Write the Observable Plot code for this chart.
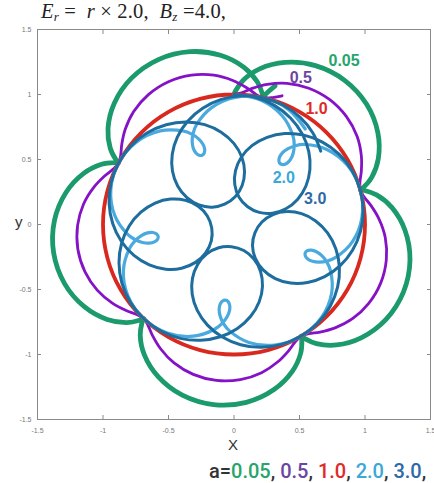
<!DOCTYPE html>
<html>
<head>
<meta charset="utf-8">
<script src="https://cdn.jsdelivr.net/npm/d3@7"></script>
<script src="https://cdn.jsdelivr.net/npm/@observablehq/plot@0.6"></script>
<style>
  body { margin: 0; background: #fff; }
  #wrap { position: relative; width: 434px; height: 483px; overflow: hidden; background: #fff; }
  #chart { position: absolute; left: 0; top: 0; }
  #title { position: absolute; left: 41px; top: 1px; font-family: "Liberation Serif", "DejaVu Serif", serif; font-size: 20.5px; line-height: 21px; color: #222; white-space: pre; letter-spacing: 0.2px; }
  #title sub { font-size: 13px; vertical-align: -3px; line-height: 0; }
  #xlabel { position: absolute; left: 228px; top: 436px; font-family: "Liberation Sans", Arial, sans-serif; font-size: 15px; color: #333; }
  #ylabel { position: absolute; left: 15px; top: 213px; font-family: "Liberation Sans", Arial, sans-serif; font-size: 15px; color: #333; }
  #legend { position: absolute; left: 209px; top: 461px; font-family: Roboto, "Liberation Sans", sans-serif; font-size: 20px; line-height: 20px; font-weight: 500; color: #333; white-space: pre; letter-spacing: 0px; }
</style>
</head>
<body>
<div id="wrap">
  <div id="chart"></div>
  <div id="title"><i>E</i><sub><i>r</i></sub> =  <i>r</i> × 2.0,  <i>B</i><sub><i>z</i></sub> =4.0,</div>
  <div id="xlabel">X</div>
  <div id="ylabel">y</div>
  <div id="legend"></div>
</div>
<script>
// ---- axis ticks ----
const xTicks = [-1.5, -1, -0.5, 0, 0.5, 1, 1.5];
const yTicks = [-1.5, -1, -0.5, 0, 0.5, 1, 1.5];
const tickLabels = ["-1.5", "-1", "-0.5", "0", "0.5", "1", "1.5"];

// ---- series names / colours ----
const seriesNames = ["0.05", "0.5", "1.0", "2.0", "3.0"];
const lineColors = ["#1b9a6c", "#8512c6", "#d9281e", "#4aaadd", "#1d6d9e"];
const textColors = ["#27a56c", "#6b45a3", "#de2b27", "#3aa8d8", "#2e6aa6"];

// ---- trajectories (polar: angle in degrees, radius) ----
// a = 1.0 (red circle)
const redTheta = [90,75,60,45,30,15,0,-15,-30,-45,-60,-75,-90,-105,-120,-135,-150,-165,-180,-195,-210,-225,-240,-255,-270,-285,-295];
const redR = [1,1,1,1,1,1,1,1,1,1,1,1,1,1,1,1,1,1,1,1,1,1,1,1,1,1,1];

// a = 0.05 (green)
const greenTheta = [
  90, 89.26, 86.39, 80.70, 72.64, 63.05, 52.72, 42.39, 32.80, 24.74, 19.05, 16.18,
  15.44, 14.70, 11.83, 6.14, -1.92, -11.51, -21.84, -32.17, -41.76, -49.82, -55.51, -58.38,
  -59.12, -59.86, -62.73, -68.42, -76.48, -86.07, -96.40, -106.73, -116.32, -124.38, -130.07, -132.94,
  -133.68, -134.42, -137.29, -142.98, -151.04, -160.63, -170.96, -181.29, -190.88, -198.94, -204.63, -207.50,
  -208.24, -208.98, -211.85, -217.54, -225.60, -235.19, -245.52, -255.85, -265.44, -273.50, -279.19, -282.06,
  -282.80, -283.54, -286.41];
const greenR = [
  1, 1.031, 1.112, 1.213, 1.306, 1.371, 1.394, 1.371, 1.306, 1.213, 1.112, 1.031,
  1, 1.031, 1.112, 1.213, 1.306, 1.371, 1.394, 1.371, 1.306, 1.213, 1.112, 1.031,
  1, 1.031, 1.112, 1.213, 1.306, 1.371, 1.394, 1.371, 1.306, 1.213, 1.112, 1.031,
  1, 1.031, 1.112, 1.213, 1.306, 1.371, 1.394, 1.371, 1.306, 1.213, 1.112, 1.031,
  1, 1.031, 1.112, 1.213, 1.306, 1.371, 1.394, 1.371, 1.306, 1.213, 1.112, 1.031,
  1, 1.031, 1.112];

// a = 0.5 (purple)
const purpleTheta = [
  90, 86.71, 82.45, 76.72, 69.59, 61.42, 52.72, 44.02, 35.85, 28.72, 22.99, 18.73,
  15.44, 12.15, 7.89, 2.16, -4.97, -13.14, -21.84, -30.54, -38.71, -45.84, -51.57, -55.83,
  -59.12, -62.41, -66.67, -72.40, -79.53, -87.70, -96.40, -105.10, -113.27, -120.40, -126.13, -130.39,
  -133.68, -136.97, -141.23, -146.96, -154.09, -162.26, -170.96, -179.66, -187.83, -194.96, -200.69, -204.95,
  -208.24, -211.53, -215.79, -221.52, -228.65, -236.82, -245.52, -254.22, -262.39, -269.52, -275.25, -279.51,
  -282.80, -286.09, -290.35];
const purpleR = [
  1, 1.015, 1.056, 1.108, 1.159, 1.194, 1.207, 1.194, 1.159, 1.108, 1.056, 1.015,
  1, 1.015, 1.056, 1.108, 1.159, 1.194, 1.207, 1.194, 1.159, 1.108, 1.056, 1.015,
  1, 1.015, 1.056, 1.108, 1.159, 1.194, 1.207, 1.194, 1.159, 1.108, 1.056, 1.015,
  1, 1.015, 1.056, 1.108, 1.159, 1.194, 1.207, 1.194, 1.159, 1.108, 1.056, 1.015,
  1, 1.015, 1.056, 1.108, 1.159, 1.194, 1.207, 1.194, 1.159, 1.108, 1.056, 1.015,
  1, 1.015, 1.056];

// a = 2.0 (light blue)
const lightTheta = [
  90, 77.71, 66.26, 56.72, 53.11, 50.56, 49.27, 49.35, 50.66, 52.72, 54.78, 56.09, 56.16, 54.88, 52.33, 48.72, 39.18, 27.73,
  15.44, 3.15, -8.30, -17.84, -21.45, -24.00, -25.29, -25.21, -23.90, -21.84, -19.78, -18.47, -18.40, -19.68, -22.23, -25.84, -35.38, -46.83,
  -59.12, -71.41, -82.86, -92.40, -96.01, -98.56, -99.85, -99.77, -98.46, -96.40, -94.34, -93.03, -92.96, -94.24, -96.79, -100.40, -109.94, -121.39,
  -133.68, -145.97, -157.42, -166.96, -170.57, -173.12, -174.41, -174.33, -173.02, -170.96, -168.90, -167.59, -167.52, -168.80, -171.35, -174.96, -184.50, -195.95,
  -208.24, -220.53, -231.98, -241.52, -245.13, -247.68, -248.97, -248.89, -247.58, -245.52, -243.46, -242.15, -242.08, -243.36, -245.91, -249.52, -259.06, -270.51,
  -282.80, -295.09, -306.54];
const lightR = [
  1, 0.978, 0.914, 0.819, 0.766, 0.712, 0.663, 0.622, 0.595, 0.586, 0.595, 0.622, 0.663, 0.712, 0.766, 0.819, 0.914, 0.978,
  1, 0.978, 0.914, 0.819, 0.766, 0.712, 0.663, 0.622, 0.595, 0.586, 0.595, 0.622, 0.663, 0.712, 0.766, 0.819, 0.914, 0.978,
  1, 0.978, 0.914, 0.819, 0.766, 0.712, 0.663, 0.622, 0.595, 0.586, 0.595, 0.622, 0.663, 0.712, 0.766, 0.819, 0.914, 0.978,
  1, 0.978, 0.914, 0.819, 0.766, 0.712, 0.663, 0.622, 0.595, 0.586, 0.595, 0.622, 0.663, 0.712, 0.766, 0.819, 0.914, 0.978,
  1, 0.978, 0.914, 0.819, 0.766, 0.712, 0.663, 0.622, 0.595, 0.586, 0.595, 0.622, 0.663, 0.712, 0.766, 0.819, 0.914, 0.978,
  1, 0.978, 0.914];

// a = 3.0 (dark blue)
const darkTheta = [
  90, 80.69, 71.42, 62.24, 53.23, 44.47, 36.10, 28.36, 21.70, 17.04, 16.57, 25.83, 52.72, 79.61, 88.87, 88.40, 83.74, 77.08, 69.34, 60.97, 52.21, 43.19, 34.02, 24.75,
  15.44, 6.13, -3.14, -12.32, -21.33, -30.09, -38.46, -46.20, -52.86, -57.52, -57.99, -48.73, -21.84, 5.05, 14.31, 13.84, 9.18, 2.52, -5.22, -13.59, -22.35, -31.37, -40.54, -49.81,
  -59.12, -68.43, -77.70, -86.88, -95.89, -104.65, -113.02, -120.76, -127.42, -132.08, -132.55, -123.29, -96.40, -69.51, -60.25, -60.72, -65.38, -72.04, -79.78, -88.15, -96.91, -105.93, -115.10, -124.37,
  -133.68, -142.99, -152.26, -161.44, -170.45, -179.21, -187.58, -195.32, -201.98, -206.64, -207.11, -197.85, -170.96, -144.07, -134.81, -135.28, -139.94, -146.60, -154.34, -162.71, -171.47, -180.49, -189.66, -198.93,
  -208.24, -217.55, -226.82, -236.00, -245.01, -253.77, -262.14, -269.88, -276.54, -281.20, -281.67, -272.41, -245.52, -218.63, -209.37, -209.84, -214.50, -221.16, -228.90, -237.27, -246.03, -255.05, -264.22, -273.49,
  -282.80, -292.11, -301.38, -310.56, -319.57];
const darkR = [
  1, 0.992, 0.967, 0.926, 0.870, 0.800, 0.717, 0.624, 0.522, 0.414, 0.307, 0.214, 0.172, 0.214, 0.307, 0.414, 0.522, 0.624, 0.717, 0.800, 0.870, 0.926, 0.967, 0.992,
  1, 0.992, 0.967, 0.926, 0.870, 0.800, 0.717, 0.624, 0.522, 0.414, 0.307, 0.214, 0.172, 0.214, 0.307, 0.414, 0.522, 0.624, 0.717, 0.800, 0.870, 0.926, 0.967, 0.992,
  1, 0.992, 0.967, 0.926, 0.870, 0.800, 0.717, 0.624, 0.522, 0.414, 0.307, 0.214, 0.172, 0.214, 0.307, 0.414, 0.522, 0.624, 0.717, 0.800, 0.870, 0.926, 0.967, 0.992,
  1, 0.992, 0.967, 0.926, 0.870, 0.800, 0.717, 0.624, 0.522, 0.414, 0.307, 0.214, 0.172, 0.214, 0.307, 0.414, 0.522, 0.624, 0.717, 0.800, 0.870, 0.926, 0.967, 0.992,
  1, 0.992, 0.967, 0.926, 0.870, 0.800, 0.717, 0.624, 0.522, 0.414, 0.307, 0.214, 0.172, 0.214, 0.307, 0.414, 0.522, 0.624, 0.717, 0.800, 0.870, 0.926, 0.967, 0.992,
  1, 0.992, 0.967, 0.926, 0.870];

// ---- in-chart label anchors (data coordinates) ----
const labelX = [0.84, 0.51, 0.63, 0.38, 0.62];
const labelY = [1.26, 1.13, 0.89, 0.36, 0.20];

// ---- build tables (polar -> cartesian) ----
function table(thetaDeg, radius) {
  return thetaDeg.map((t, i) => ({
    x: radius[i] * Math.cos(t * Math.PI / 180),
    y: radius[i] * Math.sin(t * Math.PI / 180)
  }));
}
const green = table(greenTheta, greenR);
const purple = table(purpleTheta, purpleR);
const red = table(redTheta, redR);
const light = table(lightTheta, lightR);
const dark = table(darkTheta, darkR);
const labels = seriesNames.map((s, i) => ({text: s, x: labelX[i], y: labelY[i], color: textColors[i]}));

const chart = Plot.plot({
  width: 434,
  height: 452,
  marginLeft: 37,
  marginRight: 4,
  marginTop: 29,
  marginBottom: 33,
  style: {fontFamily: "'Liberation Sans', Arial, sans-serif", background: "#fff"},
  x: {domain: [-1.5, 1.5], label: null},
  y: {domain: [-1.5, 1.5], label: null},
  color: {type: "identity"},
  marks: [
    Plot.line(green, {x: "x", y: "y", stroke: lineColors[0], strokeWidth: 4.8, curve: "catmull-rom"}),
    Plot.line(purple, {x: "x", y: "y", stroke: lineColors[1], strokeWidth: 2.8, curve: "catmull-rom"}),
    Plot.line(red, {x: "x", y: "y", stroke: lineColors[2], strokeWidth: 3.8, curve: "catmull-rom"}),
    Plot.line(light, {x: "x", y: "y", stroke: lineColors[3], strokeWidth: 3.2, curve: "catmull-rom"}),
    Plot.line(dark, {x: "x", y: "y", stroke: lineColors[4], strokeWidth: 3.0, curve: "catmull-rom"}),
    Plot.text(labels, {x: "x", y: "y", text: "text", fill: "color", fontSize: 16, fontWeight: "bold"}),
    Plot.frame({stroke: "#8a8a8a", strokeWidth: 1}),
    Plot.axisX({ticks: xTicks, anchor: "bottom", tickSize: -4, tickFormat: () => "", stroke: "#8a8a8a", label: null}),
    Plot.axisX({ticks: xTicks, anchor: "top", tickSize: -4, tickFormat: () => "", stroke: "#8a8a8a", label: null}),
    Plot.axisY({ticks: yTicks, anchor: "left", tickSize: -4, tickFormat: () => "", stroke: "#8a8a8a", label: null}),
    Plot.axisY({ticks: yTicks, anchor: "right", tickSize: -4, tickFormat: () => "", stroke: "#8a8a8a", label: null}),
    Plot.axisX({ticks: xTicks, anchor: "bottom", tickSize: 0, tickPadding: 9, tickFormat: (d, i) => tickLabels[i], fontSize: 7, fill: "#777", label: null}),
    Plot.axisY({ticks: yTicks, anchor: "left", tickSize: 0, tickPadding: 6, tickFormat: (d, i) => tickLabels[i], fontSize: 7, fill: "#777", label: null})
  ]
});
document.getElementById("chart").appendChild(chart);

// ---- legend line ----
const legend = document.getElementById("legend");
legend.appendChild(document.createTextNode("a="));
seriesNames.forEach((s, i) => {
  const span = document.createElement("span");
  span.textContent = s;
  span.style.color = textColors[i];
  legend.appendChild(span);
  legend.appendChild(document.createTextNode(i < seriesNames.length - 1 ? ", " : ","));
});
</script>
</body>
</html>
